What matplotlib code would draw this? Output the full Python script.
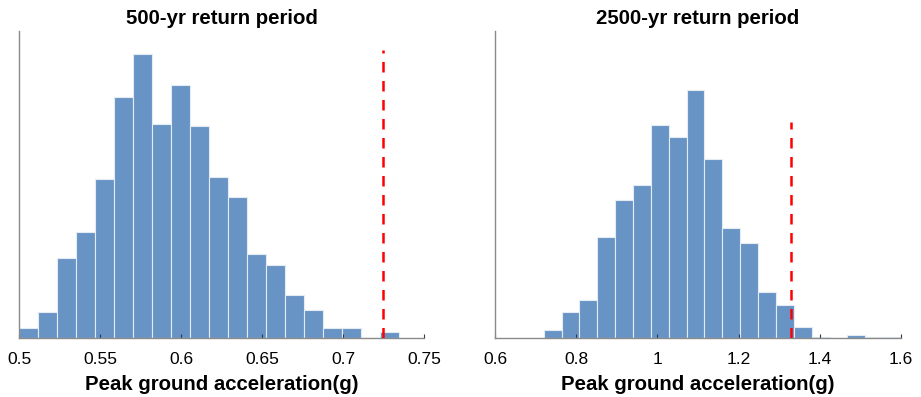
import numpy as np
import matplotlib
matplotlib.use("Agg")
import matplotlib.pyplot as plt

plt.rcParams["font.family"] = ["Liberation Sans", "DejaVu Sans"]

# 500-yr histogram (20 bins from 0.5, width ~0.01173 g)
left_start, left_width = 0.5, 0.01173
left_heights = [3.0, 7.9, 23.9, 31.9, 47.9, 72.4, 85.3, 64.4, 76.1, 63.8,
                48.5, 42.4, 25.1, 22.0, 12.8, 8.5, 3.0, 3.0, 0.0, 1.8]
left_ref_x, left_ref_top = 0.7245, 86.5

# 2500-yr histogram (20 bins from 0.72, width 0.044 g)
right_start, right_width = 0.72, 0.044
right_heights = [2.3, 7.8, 11.5, 30.3, 41.4, 46.0, 63.9, 60.3, 74.5, 53.9,
                 33.0, 28.5, 13.7, 10.0, 3.2, 0.4, 0.0, 0.9, 0.4, 0.4]
right_ref_x, right_ref_top = 1.328, 65.0

left_ticks = [0.5, 0.55, 0.6, 0.65, 0.7, 0.75]
left_ticklabels = ["0.5", "0.55", "0.6", "0.65", "0.7", "0.75"]
right_ticks = [0.6, 0.8, 1.0, 1.2, 1.4, 1.6]
right_ticklabels = ["0.6", "0.8", "1", "1.2", "1.4", "1.6"]

BAR = "#6794c5"
YMAX = 92.2

fig = plt.figure(figsize=(9.21, 3.97), dpi=100)
ax1 = fig.add_axes([19 / 921, 59 / 397, 405 / 921, 307 / 397])
ax2 = fig.add_axes([495 / 921, 59 / 397, 406 / 921, 307 / 397])


def panel(ax, start, width, heights, ref_x, ref_top, xlim, ticks, labels, title):
    lefts = start + width * np.arange(len(heights))
    ax.bar(lefts, heights, width=width, align="edge", color=BAR,
           edgecolor="#e4ebf3", linewidth=0.8)
    ax.plot([ref_x, ref_x], [0, ref_top], color="#ff0000", lw=1.8,
            ls=(0, (4.2, 3.4)), zorder=4)
    ax.set_xlim(*xlim)
    ax.set_ylim(0, YMAX)
    ax.set_xticks(ticks)
    ax.set_xticklabels(labels)
    ax.set_yticks([])
    for s in ["top", "right"]:
        ax.spines[s].set_visible(False)
    for s in ["left", "bottom"]:
        ax.spines[s].set_color("#8a8a8a")
        ax.spines[s].set_linewidth(1.0)
    ax.tick_params(axis="x", direction="in", length=3, width=0.8,
                   color="#2a3a4a", labelsize=12.5, pad=10)
    ax.set_xlabel("Peak ground acceleration(g)", fontsize=14.7,
                  fontweight="bold", labelpad=6)
    ax.set_title(title, fontsize=14.7, fontweight="bold", pad=5)


panel(ax1, left_start, left_width, left_heights, left_ref_x, left_ref_top,
      (0.5, 0.75), left_ticks, left_ticklabels, "500-yr return period")
panel(ax2, right_start, right_width, right_heights, right_ref_x, right_ref_top,
      (0.6, 1.6), right_ticks, right_ticklabels, "2500-yr return period")

fig.savefig("out.png", dpi=100)
